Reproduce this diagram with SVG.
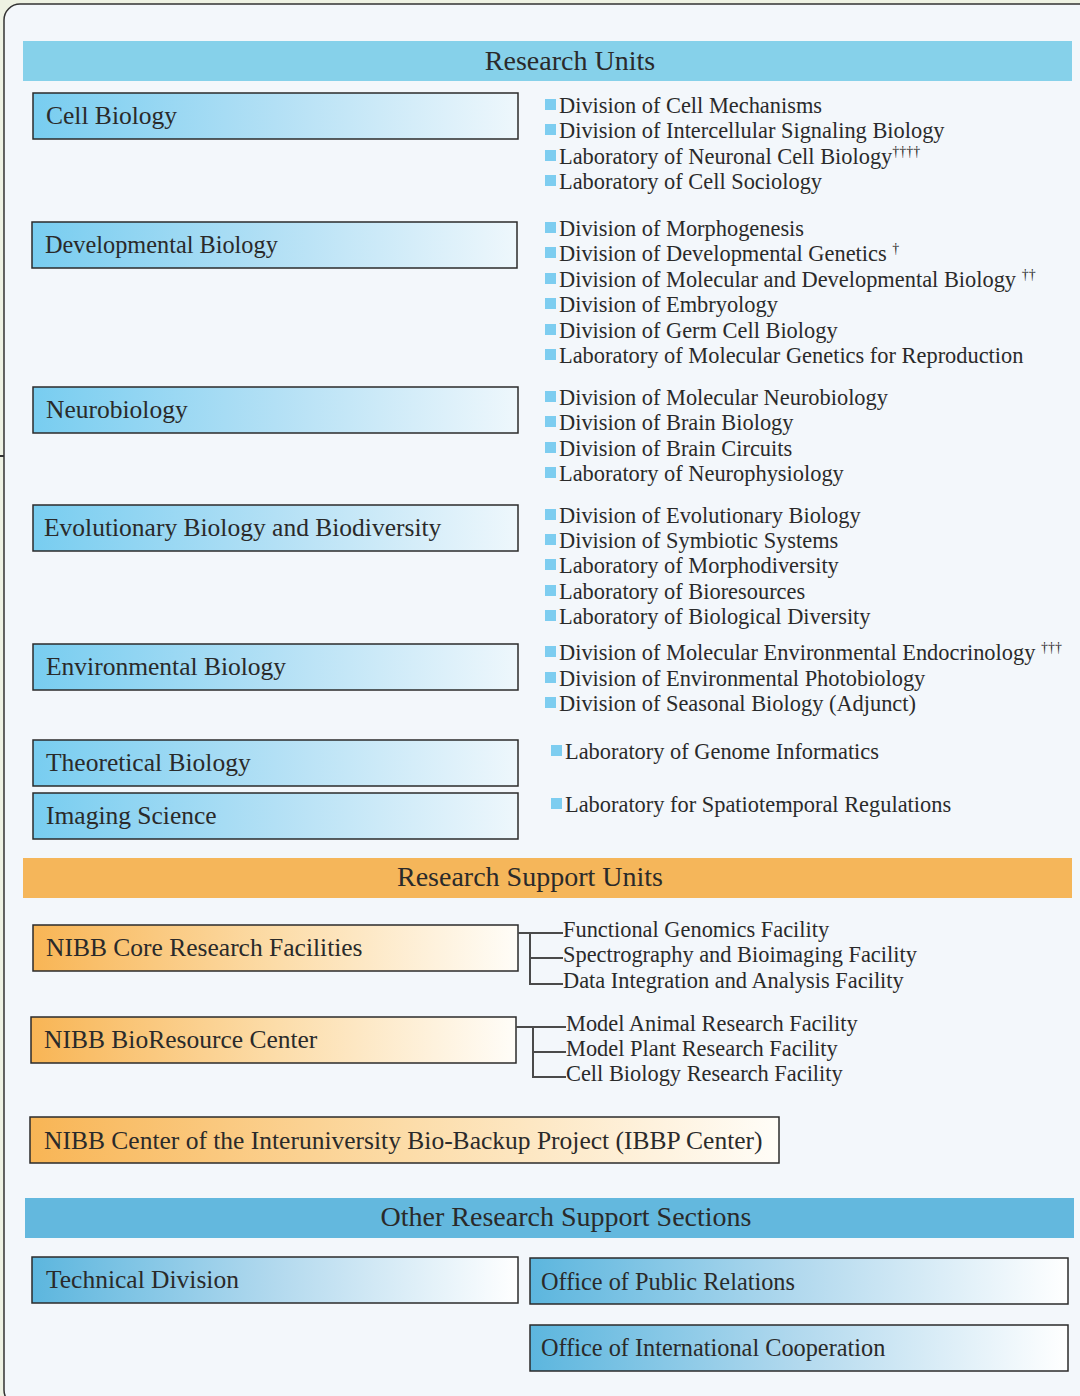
<svg xmlns="http://www.w3.org/2000/svg" width="1080" height="1396" viewBox="0 0 1080 1396">
<defs>
<linearGradient id="gBlue" x1="0" y1="0" x2="1" y2="0">
<stop offset="0" stop-color="#78cdf0"/>
<stop offset="0.5" stop-color="#b3e0f5"/>
<stop offset="1" stop-color="#eef7fc"/>
</linearGradient>
<linearGradient id="gOrange" x1="0" y1="0" x2="1" y2="0">
<stop offset="0" stop-color="#f8b555"/>
<stop offset="0.5" stop-color="#fcdca8"/>
<stop offset="1" stop-color="#fffdf8"/>
</linearGradient>
<linearGradient id="gSteel" x1="0" y1="0" x2="1" y2="0">
<stop offset="0" stop-color="#5cb6de"/>
<stop offset="0.5" stop-color="#b2d9ee"/>
<stop offset="1" stop-color="#ffffff"/>
</linearGradient>
</defs>
<style>
text{font-family:"Liberation Serif","Times New Roman",serif;fill:#2a2a2a}
.hdr{font-size:28px;text-anchor:middle}
.lbl{font-size:25.5px}
.lbl2{font-size:24.3px}
.li{font-size:22.4px}
.sup{font-size:14px}
.box{stroke:#2b2b2b;stroke-width:1.5}
.b{fill:url(#gBlue)}
.o{fill:url(#gOrange)}
.s{fill:url(#gSteel)}
.sq{fill:#7dcdf0}
.conn{fill:none;stroke:#4a4a4a;stroke-width:2}
</style>
<rect x="0" y="0" width="1080" height="1396" fill="#eef2e3"/>
<rect x="4" y="4" width="1100" height="1402" rx="16" fill="#f3f7fb" stroke="#333" stroke-width="1.5"/>
<line x1="0" y1="456" x2="4" y2="456" stroke="#333" stroke-width="2"/>

<g id="hdr-research-units">
<rect x="23" y="41" width="1049" height="40" fill="#86d1ea"/>
<text class="hdr" x="570" y="70">Research Units</text>
</g>

<g id="node-cell-biology">
<rect class="box b" x="33" y="93" width="485" height="46"/>
<text class="lbl" x="46" y="124">Cell Biology</text>
</g>
<g id="list-cell-biology">
<rect class="sq" x="545" y="99" width="11" height="11"/><text class="li" x="559" y="113">Division of Cell Mechanisms</text>
<rect class="sq" x="545" y="124" width="11" height="11"/><text class="li" x="559" y="138">Division of Intercellular Signaling Biology</text>
<rect class="sq" x="545" y="150" width="11" height="11"/><text class="li" x="559" y="164">Laboratory of Neuronal Cell Biology<tspan class="sup" dy="-8">††††</tspan></text>
<rect class="sq" x="545" y="175" width="11" height="11"/><text class="li" x="559" y="189">Laboratory of Cell Sociology</text>
</g>

<g id="node-developmental-biology">
<rect class="box b" x="32" y="222" width="485" height="46"/>
<text class="lbl2" x="45" y="253">Developmental Biology</text>
</g>
<g id="list-developmental-biology">
<rect class="sq" x="545" y="222" width="11" height="11"/><text class="li" x="559" y="236">Division of Morphogenesis</text>
<rect class="sq" x="545" y="247" width="11" height="11"/><text class="li" x="559" y="261">Division of Developmental Genetics <tspan class="sup" dy="-8">†</tspan></text>
<rect class="sq" x="545" y="273" width="11" height="11"/><text class="li" x="559" y="287">Division of Molecular and Developmental Biology <tspan class="sup" dy="-8">††</tspan></text>
<rect class="sq" x="545" y="298" width="11" height="11"/><text class="li" x="559" y="312">Division of Embryology</text>
<rect class="sq" x="545" y="324" width="11" height="11"/><text class="li" x="559" y="338">Division of Germ Cell Biology</text>
<rect class="sq" x="545" y="349" width="11" height="11"/><text class="li" x="559" y="363">Laboratory of Molecular Genetics for Reproduction</text>
</g>

<g id="node-neurobiology">
<rect class="box b" x="33" y="387" width="485" height="46"/>
<text class="lbl" x="46" y="418">Neurobiology</text>
</g>
<g id="list-neurobiology">
<rect class="sq" x="545" y="391" width="11" height="11"/><text class="li" x="559" y="405">Division of Molecular Neurobiology</text>
<rect class="sq" x="545" y="416" width="11" height="11"/><text class="li" x="559" y="430">Division of Brain Biology</text>
<rect class="sq" x="545" y="442" width="11" height="11"/><text class="li" x="559" y="456">Division of Brain Circuits</text>
<rect class="sq" x="545" y="467" width="11" height="11"/><text class="li" x="559" y="481">Laboratory of Neurophysiology</text>
</g>

<g id="node-evolutionary-biology">
<rect class="box b" x="33" y="505" width="485" height="46"/>
<text class="lbl" x="44" y="536">Evolutionary Biology and Biodiversity</text>
</g>
<g id="list-evolutionary-biology">
<rect class="sq" x="545" y="509" width="11" height="11"/><text class="li" x="559" y="523">Division of Evolutionary Biology</text>
<rect class="sq" x="545" y="534" width="11" height="11"/><text class="li" x="559" y="548">Division of Symbiotic Systems</text>
<rect class="sq" x="545" y="559" width="11" height="11"/><text class="li" x="559" y="573">Laboratory of Morphodiversity</text>
<rect class="sq" x="545" y="585" width="11" height="11"/><text class="li" x="559" y="599">Laboratory of Bioresources</text>
<rect class="sq" x="545" y="610" width="11" height="11"/><text class="li" x="559" y="624">Laboratory of Biological Diversity</text>
</g>

<g id="node-environmental-biology">
<rect class="box b" x="33" y="644" width="485" height="46"/>
<text class="lbl" x="46" y="675">Environmental Biology</text>
</g>
<g id="list-environmental-biology">
<rect class="sq" x="545" y="646" width="11" height="11"/><text class="li" x="559" y="660">Division of Molecular Environmental Endocrinology <tspan class="sup" dy="-8">†††</tspan></text>
<rect class="sq" x="545" y="672" width="11" height="11"/><text class="li" x="559" y="686">Division of Environmental Photobiology</text>
<rect class="sq" x="545" y="697" width="11" height="11"/><text class="li" x="559" y="711">Division of Seasonal Biology (Adjunct)</text>
</g>

<g id="node-theoretical-biology">
<rect class="box b" x="33" y="740" width="485" height="46"/>
<text class="lbl" x="46" y="771">Theoretical Biology</text>
</g>
<g id="list-theoretical-biology">
<rect class="sq" x="551" y="745" width="11" height="11"/><text class="li" x="565" y="759">Laboratory of Genome Informatics</text>
</g>

<g id="node-imaging-science">
<rect class="box b" x="33" y="793" width="485" height="46"/>
<text class="lbl" x="46" y="824">Imaging Science</text>
</g>
<g id="list-imaging-science">
<rect class="sq" x="551" y="798" width="11" height="11"/><text class="li" x="565" y="812">Laboratory for Spatiotemporal Regulations</text>
</g>

<g id="hdr-research-support-units">
<rect x="23" y="858" width="1049" height="40" fill="#f5b65a"/>
<text class="hdr" x="530" y="886">Research Support Units</text>
</g>

<g id="node-core-facilities">
<rect class="box o" x="33" y="925" width="485" height="46"/>
<text class="lbl" x="46" y="956">NIBB Core Research Facilities</text>
</g>
<g id="list-core-facilities">
<text class="li" x="563" y="937">Functional Genomics Facility</text>
<text class="li" x="563" y="962">Spectrography and Bioimaging Facility</text>
<text class="li" x="563" y="988">Data Integration and Analysis Facility</text>
</g>

<g id="node-bioresource">
<rect class="box o" x="31" y="1017" width="485" height="46"/>
<text class="lbl" x="44" y="1048">NIBB BioResource Center</text>
</g>
<g id="list-bioresource">
<text class="li" x="566" y="1031">Model Animal Research Facility</text>
<text class="li" x="566" y="1056">Model Plant Research Facility</text>
<text class="li" x="566" y="1081">Cell Biology Research Facility</text>
</g>

<g id="connectors">
<path class="conn" d="M518 933 H563 M530 933 V984 H563 M530 958 H563"/>
<path class="conn" d="M516 1027 H566 M533 1027 V1077 H566 M533 1052 H566"/>
</g>

<g id="node-ibbp">
<rect class="box o" x="30" y="1117" width="749" height="46"/>
<text class="lbl" x="44" y="1149">NIBB Center of the Interuniversity Bio-Backup Project (IBBP Center)</text>
</g>

<g id="hdr-other-sections">
<rect x="25" y="1198" width="1049" height="40" fill="#63b8de"/>
<text class="hdr" x="566" y="1226">Other Research Support Sections</text>
</g>

<g id="node-technical-division">
<rect class="box s" x="32" y="1257" width="486" height="46"/>
<text class="lbl" x="46" y="1288">Technical Division</text>
</g>
<g id="node-public-relations">
<rect class="box s" x="530" y="1258" width="538" height="46"/>
<text class="lbl2" x="541" y="1290">Office of Public Relations</text>
</g>
<g id="node-international-cooperation">
<rect class="box s" x="530" y="1325" width="538" height="46"/>
<text class="lbl2" x="541" y="1356">Office of International Cooperation</text>
</g>
</svg>
